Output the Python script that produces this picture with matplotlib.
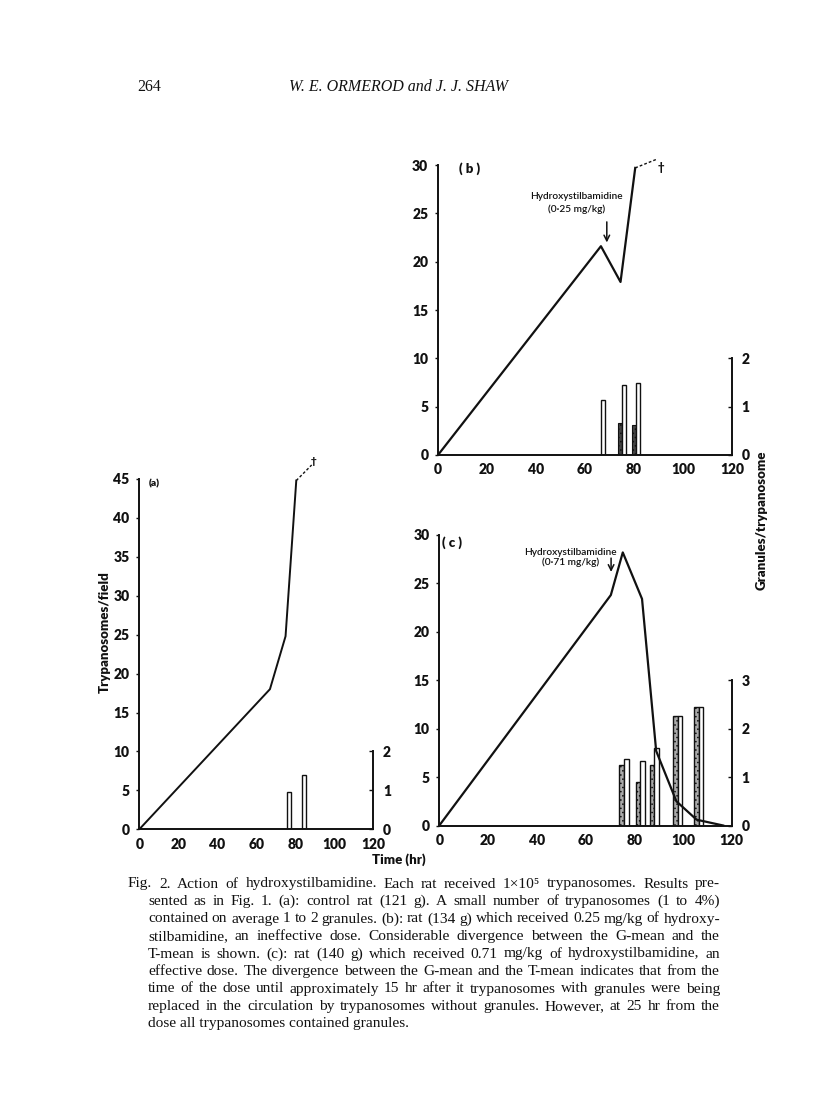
import matplotlib
matplotlib.use("Agg")
import matplotlib.pyplot as plt

W, H = 816, 1117

# (a) control rat: trypanosomes/field and granules/trypanosome
a_time = [0, 67, 75, 80.5]
a_tryp = [0, 18, 24.8, 44.8]
a_dash_time = [80.5, 88.4]
a_dash_tryp = [44.8, 46.8]
a_open_time = [76.7, 84.4]
a_open_gran = [0.95, 1.39]

# (b) 0.25 mg/kg
b_time = [0, 66.5, 74.5, 80.5]
b_tryp = [0, 21.6, 17.9, 29.7]
b_dash_time = [80.5, 89.3]
b_dash_tryp = [29.7, 30.6]
b_dark_time = [74.4, 80.0]
b_dark_gran = [0.67, 0.62]
b_open_time = [67.3, 76.0, 81.7]
b_open_gran = [1.14, 1.44, 1.50]

# (c) 0.71 mg/kg
c_time = [0, 70.4, 75.3, 83.2, 89.0, 97.3, 105.6, 116.5]
c_tryp = [0, 23.8, 28.2, 23.4, 7.7, 2.5, 0.6, 0]
c_dark_time = [74.85, 81.55, 87.25, 96.85, 105.45]
c_dark_gran = [1.24, 0.90, 1.25, 2.27, 2.44]
c_open_time = [76.75, 83.45, 89.15, 98.75, 107.35]
c_open_gran = [1.38, 1.34, 1.60, 2.27, 2.44]

x_ticks = [0, 20, 40, 60, 80, 100, 120]

caption = [
    "Fig. 2.  Action of hydroxystilbamidine.  Each rat received 1\u00d710\u2075 trypanosomes.  Results pre-",
    "sented as in Fig. 1.  (a):  control rat (121 g).  A small number of trypanosomes (1 to 4%)",
    "contained on average 1 to 2 granules.  (b):  rat (134 g) which received 0.25 mg/kg of hydroxy-",
    "stilbamidine, an ineffective dose.  Considerable divergence between the G-mean and the",
    "T-mean is shown.  (c):  rat (140 g) which received 0.71 mg/kg of hydroxystilbamidine, an",
    "effective dose.  The divergence between the G-mean and the T-mean indicates that from the",
    "time of the dose until approximately 15 hr after it trypanosomes with granules were being",
    "replaced in the circulation by trypanosomes without granules.  However, at 25 hr from the",
    "dose all trypanosomes contained granules.",
]

plt.rcParams['font.family'] = ['Lato', 'DejaVu Sans']
plt.rcParams['font.weight'] = 'heavy'
plt.rcParams['hatch.linewidth'] = 0.6
INK = '#111111'
SERIF = ['Liberation Serif', 'DejaVu Serif']

fig = plt.figure(figsize=(W / 100, H / 100), dpi=100)


def box(x0, x1, y_top, y_bot):
    # pixel box -> figure fraction
    return [x0 / W, 1 - y_bot / H, (x1 - x0) / W, (y_bot - y_top) / H]


def panel(rect, ymax, yticks, gmax, gtop):
    ax = fig.add_axes(rect)
    ax.set_xlim(0, 120)
    ax.set_ylim(0, ymax)
    ax.set_xticks(x_ticks)
    ax.set_yticks(yticks)
    for s in ['top', 'right']:
        ax.spines[s].set_visible(False)
    for s in ['left', 'bottom']:
        ax.spines[s].set_linewidth(1.4)
        ax.spines[s].set_color(INK)
    ax.tick_params(axis='x', length=0, pad=6, labelsize=10, colors=INK)
    ax.tick_params(axis='y', length=2, width=1, pad=5, labelsize=10, colors=INK)

    ax2 = ax.twinx()
    ax2.set_ylim(0, gmax)
    ax2.set_yticks(range(gtop + 1))
    for s in ['top', 'left', 'bottom']:
        ax2.spines[s].set_visible(False)
    ax2.spines['right'].set_bounds(0, gtop)
    ax2.spines['right'].set_linewidth(1.4)
    ax2.spines['right'].set_color(INK)
    ax2.tick_params(axis='y', direction='in', length=3, width=1, pad=7,
                    labelsize=10, colors=INK)
    ax.set_zorder(ax2.get_zorder() + 1)
    ax.patch.set_visible(False)
    return ax, ax2


# ---- panel (a)
ax, ax2 = panel(box(139.3, 373.3, 479, 829.3), 45, range(0, 46, 5), 9, 2)
ax.plot(a_time, a_tryp, color=INK, lw=1.4)
ax.plot(a_dash_time, a_dash_tryp, color=INK, lw=1.0, ls=(0, (2, 1.5)), clip_on=False)
ax.text(89.6, 47.3, '\u2020', fontsize=7, ha='center', va='center', color=INK)
ax.text(7.5, 44.4, '(a)', fontsize=7.5, ha='center', va='center', color=INK)
ax2.bar(a_open_time, a_open_gran, width=2.0, color='white', edgecolor=INK, lw=1.0)

# ---- panel (b)
ax, ax2 = panel(box(438, 732, 165, 455), 30, range(0, 31, 5), 6, 2)
ax.plot(b_time, b_tryp, color=INK, lw=1.6)
ax.plot(b_dash_time, b_dash_tryp, color=INK, lw=1.0, ls=(0, (2, 1.5)), clip_on=False)
ax.text(90.8, 29.7, '\u2020', fontsize=8, ha='center', va='center', color=INK)
ax.text(12.7, 29.6, '( b )', fontsize=9.5, ha='center', va='center', color=INK)
ax.text(56.7, 26.05, 'Hydroxystilbamidine\n(0\u00b725 mg/kg)', fontsize=7.3, fontweight='semibold',
        ha='center', va='center', linespacing=1.5, color=INK)
ax.annotate('', xy=(68.9, 21.7), xytext=(68.9, 24.4),
            arrowprops=dict(arrowstyle='->', lw=1.1, color=INK))
ax2.bar(b_dark_time, b_dark_gran, width=1.6, color='#444444', hatch='....',
        edgecolor=INK, lw=0.8)
ax2.bar(b_open_time, b_open_gran, width=1.8, color='white', edgecolor=INK, lw=1.0)

# ---- panel (c)
ax, ax2 = panel(box(439.3, 731.7, 535, 825.5), 30, range(0, 31, 5), 6, 3)
ax.plot(c_time, c_tryp, color=INK, lw=1.6)
ax.text(5.3, 29.2, '( c )', fontsize=9.5, ha='center', va='center', color=INK)
ax.text(54.0, 27.7, 'Hydroxystilbamidine\n(0\u00b771 mg/kg)', fontsize=7.3, fontweight='semibold',
        ha='center', va='center', linespacing=1.1, color=INK)
ax.annotate('', xy=(70.5, 25.9), xytext=(70.5, 27.9),
            arrowprops=dict(arrowstyle='->', lw=1.1, color=INK))
ax2.bar(c_dark_time, c_dark_gran, width=1.9, color='#aaaaaa', hatch='....',
        edgecolor=INK, lw=1.0)
ax2.bar(c_open_time, c_open_gran, width=1.9, color='white', edgecolor=INK, lw=1.0)

fig.text(105 / W, 1 - 632 / H, 'Trypanosomes/field', fontsize=9.5, rotation=90,
         ha='center', va='center', color=INK)
fig.text(399 / W, 1 - 860 / H, 'Time (hr)', fontsize=9.5, ha='center', va='center', color=INK)
fig.text(762 / W, 1 - 520 / H, 'Granules/trypanosome', fontsize=9.5, rotation=90,
         ha='center', va='center', color=INK)

# ---- header
fig.text(137 / W, 1 - 87 / H, '264', family=SERIF, fontweight='normal', fontsize=11.5,
         ha='left', va='center', color=INK)
fig.text(289 / W, 1 - 87 / H, 'W. E. ORMEROD and J. J. SHAW', family=SERIF, style='italic',
         fontweight='normal', fontsize=11.5, ha='left', va='center', color=INK)

# ---- caption, justified between x=148 and 720 (first line hangs at 128)
r = fig.canvas.get_renderer()
for i, line in enumerate(caption):
    x0 = 128 if i == 0 else 148
    y = 1 - (884 + i * 17.5) / H
    kw = dict(family=SERIF, fontweight='normal', fontsize=11.1, ha='left', va='center', color=INK)
    if i == len(caption) - 1:
        fig.text(x0 / W, y, line, **kw)
        continue
    words = line.split()
    texts = [fig.text(0, y, w, **kw) for w in words]
    widths = [t.get_window_extent(r).width for t in texts]
    gap = max(2.5, (720 - x0 - sum(widths)) / (len(words) - 1))
    x = x0
    for t, w in zip(texts, widths):
        t.set_x(x / W)
        x += w + gap

fig.savefig('out.png', dpi=100)
